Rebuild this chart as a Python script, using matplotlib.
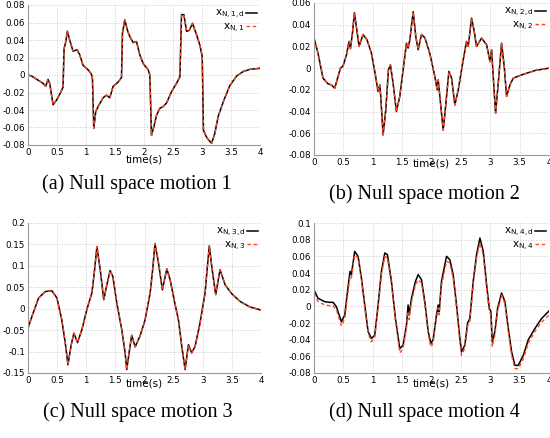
import matplotlib
matplotlib.use('Agg')
import matplotlib.pyplot as plt
from matplotlib.ticker import FuncFormatter

# null space motion 1
t1 = [0, 0.058, 0.259, 0.305, 0.345, 0.374, 0.432, 0.489, 0.547, 0.604, 0.622, 0.645, 0.679, 0.719,
      0.777, 0.846, 0.892, 0.95, 1.036, 1.094, 1.111, 1.134, 1.168, 1.209, 1.295, 1.353, 1.41, 1.468,
      1.554, 1.612, 1.629, 1.669, 1.715, 1.755, 1.813, 1.871, 1.928, 1.986, 2.072, 2.101, 2.129, 2.17,
      2.216, 2.273, 2.331, 2.388, 2.475, 2.561, 2.619, 2.647, 2.688, 2.734, 2.78, 2.837, 2.906, 2.964,
      3.004, 3.025, 3.07, 3.11, 3.165, 3.22, 3.28, 3.37, 3.48, 3.6, 3.71, 3.83, 4.0]
x1d = [0, -0.001, -0.0095, -0.013, -0.005, -0.0095, -0.034, -0.029, -0.022, -0.014, 0.03, 0.036, 0.05,
       0.04, 0.027, 0.029, 0.023, 0.011, 0.006, 0.001, -0.004, -0.061, -0.042, -0.036, -0.026, -0.023,
       -0.026, -0.013, -0.008, -0.003, 0.048, 0.063, 0.051, 0.044, 0.037, 0.038, 0.023, 0.013, 0.006, 0.0,
       -0.069, -0.059, -0.046, -0.038, -0.036, -0.032, -0.019, -0.0095, -0.002, 0.069, 0.069, 0.05, 0.051,
       0.059, 0.046, 0.034, 0.021, -0.063, -0.07, -0.074, -0.078, -0.067, -0.047, -0.03, -0.012, -0.001,
       0.004, 0.0065, 0.0077]
x1 = x1d  # tracked motion lies on the desired one

# null space motion 2
t2 = [0, 0.068, 0.153, 0.239, 0.296, 0.353, 0.41, 0.45, 0.494, 0.551, 0.597, 0.62, 0.654, 0.688, 0.722,
      0.767, 0.835, 0.903, 0.977, 1.045, 1.09, 1.119, 1.136, 1.176, 1.222, 1.267, 1.301, 1.346, 1.403,
      1.46, 1.517, 1.574, 1.602, 1.631, 1.688, 1.733, 1.773, 1.83, 1.887, 1.97, 2.057, 2.097, 2.114,
      2.142, 2.199, 2.24, 2.296, 2.342, 2.398, 2.455, 2.54, 2.597, 2.625, 2.682, 2.727, 2.767, 2.852,
      2.938, 2.995, 3.023, 3.051, 3.091, 3.136, 3.193, 3.238, 3.278, 3.335, 3.392, 3.534, 3.76, 4.0]
x2d = [0.0277, 0.0138, -0.0092, -0.0145, -0.0154, -0.0185, -0.0077, 0.0, 0.002, 0.012, 0.0246, 0.018,
       0.032, 0.051, 0.038, 0.020, 0.031, 0.026, 0.0138, -0.0062, -0.0215, -0.0154, -0.026, -0.0615,
       -0.0385, -0.0015, 0.003, -0.0138, -0.040, -0.026, -0.0015, 0.023, 0.0185, 0.026, 0.052, 0.029,
       0.017, 0.031, 0.028, 0.0138, -0.0077, -0.020, -0.0108, -0.026, -0.057, -0.0354, -0.003, -0.0092,
       -0.0339, -0.020, 0.0077, 0.0246, 0.020, 0.046, 0.034, 0.020, 0.0277, 0.0215, 0.006, 0.017,
       -0.0077, -0.0415, -0.0138, 0.023, 0.0015, -0.026, -0.0154, -0.0092, -0.0062, -0.0022, 0.0]
x2 = x2d

# null space motion 3
t3 = [0, 0.068, 0.182, 0.296, 0.41, 0.497, 0.58, 0.64, 0.686, 0.742, 0.788, 0.85, 0.925, 1.01, 1.097,
      1.137, 1.183, 1.24, 1.30, 1.354, 1.41, 1.457, 1.525, 1.61, 1.667, 1.695, 1.735, 1.78, 1.84, 1.925,
      2.01, 2.097, 2.14, 2.18, 2.24, 2.307, 2.383, 2.44, 2.514, 2.583, 2.64, 2.697, 2.754, 2.81, 2.868,
      2.954, 3.04, 3.08, 3.113, 3.154, 3.222, 3.297, 3.383, 3.497, 3.64, 3.81, 4.0]
x3d = [-0.045, -0.018, 0.025, 0.040, 0.042, 0.025, -0.026, -0.080, -0.131, -0.084, -0.057, -0.079,
       -0.049, -0.002, 0.037, 0.083, 0.145, 0.091, 0.021, 0.056, 0.089, 0.075, 0.013, -0.049, -0.103,
       -0.142, -0.103, -0.062, -0.089, -0.063, -0.026, 0.037, 0.091, 0.152, 0.107, 0.044, 0.093, 0.068,
       0.017, -0.026, -0.088, -0.142, -0.084, -0.103, -0.088, -0.033, 0.037, 0.099, 0.147, 0.099, 0.033,
       0.091, 0.056, 0.035, 0.017, 0.004, -0.003]
x3 = x3d

# null space motion 4
t4 = [0, 0.068, 0.182, 0.267, 0.324, 0.381, 0.466, 0.523, 0.591, 0.614, 0.636, 0.693, 0.75, 0.807,
      0.864, 0.92, 0.977, 1.034, 1.091, 1.148, 1.205, 1.25, 1.318, 1.386, 1.46, 1.517, 1.574, 1.602,
      1.619, 1.659, 1.727, 1.773, 1.83, 1.886, 1.943, 1.989, 2.028, 2.085, 2.114, 2.131, 2.170, 2.256,
      2.312, 2.369, 2.426, 2.483, 2.511, 2.568, 2.614, 2.653, 2.71, 2.767, 2.824, 2.881, 2.938, 2.983,
      3.011, 3.034, 3.08, 3.125, 3.193, 3.25, 3.307, 3.364, 3.42, 3.477, 3.563, 3.648, 3.761, 3.875, 4.0]
x4d = [0.0197, 0.0097, 0.0056, 0.0048, 0.0048, -0.0004, -0.0185, -0.0105, 0.030, 0.042, 0.038, 0.066,
       0.060, 0.034, 0.0016, -0.030, -0.0386, -0.0346, 0.0016, 0.042, 0.064, 0.062, 0.030, -0.0145,
       -0.0507, -0.0466, -0.0225, 0.0016, -0.0105, 0.0097, 0.030, 0.038, 0.032, 0.0056, -0.030, -0.0446,
       -0.040, -0.0105, 0.0016, -0.0064, 0.030, 0.060, 0.056, 0.038, 0.0016, -0.0386, -0.0547, -0.0466,
       -0.020, -0.0145, 0.030, 0.062, 0.082, 0.066, 0.026, -0.0024, -0.0064, -0.0427, -0.030, -0.0024,
       0.016, 0.0056, -0.0265, -0.0547, -0.0708, -0.0708, -0.0587, -0.040, -0.0265, -0.0145, -0.0056]
x4 = [0.0157, 0.006, 0.0016, 0.0008, 0.0008, -0.004, -0.0235, -0.015, 0.024, 0.036, 0.034, 0.062,
      0.058, 0.032, -0.002, -0.032, -0.0426, -0.037, -0.002, 0.038, 0.060, 0.058, 0.028, -0.017,
      -0.056, -0.050, -0.026, -0.006, -0.016, 0.005, 0.026, 0.032, 0.028, 0.002, -0.033, -0.0487,
      -0.044, -0.014, -0.002, -0.010, 0.025, 0.054, 0.052, 0.034, -0.002, -0.043, -0.0587, -0.050,
      -0.024, -0.018, 0.026, 0.058, 0.076, 0.062, 0.022, -0.006, -0.010, -0.0487, -0.034, -0.006,
      0.0137, 0.003, -0.030, -0.059, -0.0748, -0.0748, -0.063, -0.044, -0.030, -0.019, -0.0105]

panels = [
    (t1, x1d, x1, '1', (-0.08, 0.08), 0.02, [28, 5, 260, 145], 160, 'a'),
    (t2, x2d, x2, '2', (-0.08, 0.06), 0.02, [314, 3, 549, 155], 163, 'b'),
    (t3, x3d, x3, '3', (-0.15, 0.2), 0.05, [28, 223, 261, 373], 383, 'c'),
    (t4, x4d, x4, '4', (-0.08, 0.1), 0.02, [314, 223, 549, 373], 383, 'd'),
]

W, H = 550, 438
fig = plt.figure(figsize=(5.5, 4.38), dpi=100)
fmt = FuncFormatter(lambda v, p: '%g' % round(v, 4))

for t, xd, xm, k, ylim, step, box, xlab_y, letter in panels:
    l, top, r, b = box
    ax = fig.add_axes([l / W, 1 - b / H, (r - l) / W, (b - top) / H])
    ax.plot(t, xd, color='black', lw=1.1, label=r'$\mathregular{x_{N,%s,d}}$' % k)
    ax.plot(t, xm, color='#ff4422', lw=1.0, ls=(0, (2.5, 2)), label=r'$\mathregular{x_{N,%s}}$' % k)
    ax.set_xlim(0, 4)
    ax.set_ylim(*ylim)
    ax.set_xticks([0, 0.5, 1, 1.5, 2, 2.5, 3, 3.5, 4])
    n = int(round((ylim[1] - ylim[0]) / step))
    ax.set_yticks([ylim[0] + i * step for i in range(n + 1)])
    ax.xaxis.set_major_formatter(fmt)
    ax.yaxis.set_major_formatter(fmt)
    ax.tick_params(labelsize=6.3, length=0, pad=2)
    ax.grid(True, color='#cccccc', ls=':', lw=0.7)
    for s in ['top', 'right']:
        ax.spines[s].set_visible(False)
    for s in ['left', 'bottom']:
        ax.spines[s].set_color('#999999')
        ax.spines[s].set_linewidth(0.8)
    ax.legend(loc='upper right', frameon=False, markerfirst=False, fontsize=7.5,
              handlelength=1.0, handletextpad=0.2, labelspacing=0.05, borderaxespad=0.2,
              borderpad=0.1)
    fig.text((l + r) / 2 / W, 1 - xlab_y / H, 'time(s)', ha='center', va='center', fontsize=7.5)
    fig.text(((l + r) / 2 - 7) / W, 1 - (b + 39) / H, '(%s) Null space motion %s' % (letter, k),
             ha='center', va='center', fontsize=14.5, family='Liberation Serif')

fig.savefig('out.png', dpi=100)
